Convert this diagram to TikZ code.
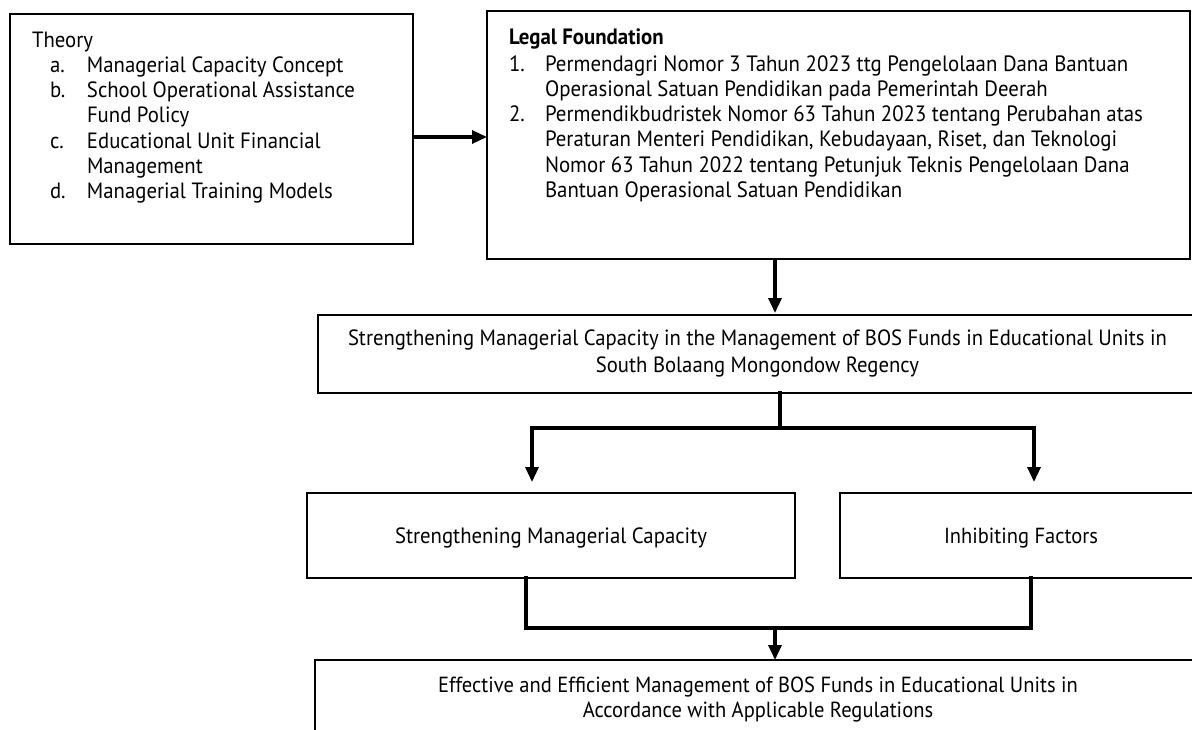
\documentclass[tikz,border=0pt]{standalone}
\usepackage{fontspec}
\setmainfont{PT Sans}[FakeStretch=0.94]
\usetikzlibrary{arrows.meta}
\newlength\reflen
\newcommand\calibfs[3]{\settowidth\reflen{\fontsize{20pt}{24pt}\selectfont #2}\pgfmathsetmacro#1{#3/\reflen*20}}
\tikzset{
  box/.style={draw, line width=2pt, inner sep=0pt, outer sep=0pt, anchor=north west},
  conn/.style={line width=3.2pt, line cap=rect},
  arr/.style={line width=3.2pt, -{Triangle[width=13pt,length=15pt]}},
  txt/.style={inner sep=0pt, outer sep=0pt}
}
\begin{document}
\calibfs\fsTheory{School Operational Assistance}{268}%
\calibfs\fsLegal{Permendikbudristek Nomor 63 Tahun 2023 tentang Perubahan atas}{598}%
\calibfs\fsMain{Strengthening Managerial Capacity in the Management of BOS Funds in Educational Units in}{819}%
\calibfs\fsLeft{Strengthening Managerial Capacity}{312}%
\calibfs\fsRight{Inhibiting Factors}{154}%
\calibfs\fsBottom{Effective and Efficient Management of BOS Funds in Educational Units in}{640}%
\begin{tikzpicture}[x=1pt,y=-1pt]
\useasboundingbox (0,0) rectangle (1192,729);
\fill[white] (0,0) rectangle (1192,729);
\clip (0,0) rectangle (1192,729);

% boxes
\node[box, minimum width=403pt, minimum height=230pt] (theory) at (10,14) {};
\node[box, minimum width=703pt, minimum height=248pt] (legal) at (487,11) {};
\node[box, minimum width=879pt, minimum height=78pt] (main) at (318,315) {};
\node[box, minimum width=488pt, minimum height=85pt] (left) at (307,493) {};
\node[box, minimum width=362pt, minimum height=85pt] (right) at (840,493) {};
\node[box, minimum width=886pt, minimum height=110pt] (bottom) at (315,660) {};

% texts
\node[txt, anchor=base west, font=\fontsize{\fsTheory pt}{25.3pt}\selectfont] (theorytext) at (32,47) {%
\begin{tabular}[t]{@{\hspace{18pt}}p{37pt}@{}l@{}}
\multicolumn{2}{@{}l@{}}{Theory}\\
a. & Managerial Capacity Concept\\
b. & School Operational Assistance\\
   & Fund Policy\\
c. & Educational Unit Financial\\
   & Management\\
d. & Managerial Training Models
\end{tabular}};

\node[txt, anchor=base west, font=\fontsize{\fsLegal pt}{25.3pt}\selectfont] (legaltext) at (509,44) {%
\begin{tabular}[t]{@{}p{36pt}@{}l@{}}
\multicolumn{2}{@{}l@{}}{\bfseries Legal Foundation}\\[1.7pt]
1. & Permendagri Nomor 3 Tahun 2023 ttg Pengelolaan Dana Bantuan\\
   & Operasional Satuan Pendidikan pada Pemerintah Deerah\\
2. & Permendikbudristek Nomor 63 Tahun 2023 tentang Perubahan atas\\
   & Peraturan Menteri Pendidikan, Kebudayaan, Riset, dan Teknologi\\
   & Nomor 63 Tahun 2022 tentang Petunjuk Teknis Pengelolaan Dana\\
   & Bantuan Operasional Satuan Pendidikan
\end{tabular}};

\node[txt, anchor=base, font=\fontsize{\fsMain pt}{27pt}\selectfont] (maintext) at (757.5,345) {%
\begin{tabular}[t]{@{}c@{}}
Strengthening Managerial Capacity in the Management of BOS Funds in Educational Units in\\
South Bolaang Mongondow Regency
\end{tabular}};

\node[txt, anchor=base, font=\fontsize{\fsLeft pt}{25pt}\selectfont] (lefttext) at (551,543) {Strengthening Managerial Capacity};
\node[txt, anchor=base, font=\fontsize{\fsRight pt}{25pt}\selectfont] (righttext) at (1021,543) {Inhibiting Factors};

\node[txt, anchor=base, font=\fontsize{\fsBottom pt}{25.5pt}\selectfont] (bottomtext) at (758,692) {%
\begin{tabular}[t]{@{}c@{}}
Effective and Efficient Management of BOS Funds in Educational Units in\\
Accordance with Applicable Regulations
\end{tabular}};

% connectors
\coordinate (j1) at (450,137);
\draw[arr] (theory.east |- j1) -- (legal.west |- j1);

\coordinate (j2) at (775,285);
\draw[arr, shorten >=2pt] (legal.south -| j2) -- (main.north -| j2);

\coordinate (s0) at (780,428);
\coordinate (sL) at (532,428);
\coordinate (sR) at (1034,428);
\draw[conn] (main.south -| s0) -- (s0);
\draw[conn] (sL) -- (sR);
\draw[arr, shorten >=11pt] (sL) -- (left.north -| sL);
\draw[arr, shorten >=11pt] (sR) -- (right.north -| sR);

\coordinate (mL) at (526,628);
\coordinate (mR) at (1031,628);
\coordinate (mC) at (775,628);
\draw[conn] (left.south -| mL) -- (mL) -- (mR) -- (right.south -| mR);
\draw[arr] (mC) -- (bottom.north -| mC);
\end{tikzpicture}
\end{document}
